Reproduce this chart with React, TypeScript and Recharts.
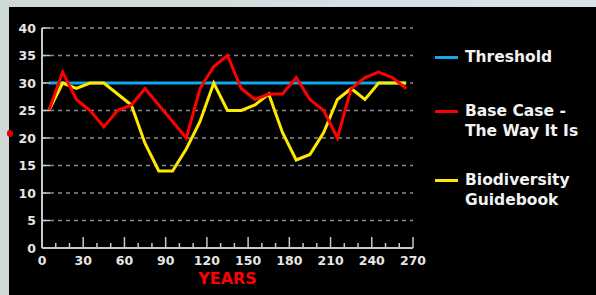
import React from "react";
import { LineChart, Line, XAxis, YAxis, CartesianGrid } from "recharts";

const years = [5, 15, 25, 35, 45, 55, 65, 75, 85, 95, 105, 115, 125, 135, 145, 155, 165, 175, 185, 195, 205, 215, 225, 235, 245, 255, 265];
const threshold = [30, 30, 30, 30, 30, 30, 30, 30, 30, 30, 30, 30, 30, 30, 30, 30, 30, 30, 30, 30, 30, 30, 30, 30, 30, 30, 30];
const baseCase = [25, 32, 27, 25, 22, 25, 26, 29, 26, 23, 20, 29, 33, 35, 29, 27, 28, 28, 31, 27, 25, 20, 29, 31, 32, 31, 29];
const biodiversity = [25, 30, 29, 30, 30, 28, 26, 19, 14, 14, 18, 23, 30, 25, 25, 26, 28, 21, 16, 17, 21, 27, 29, 27, 30, 30, 30];

const xTicks = [0, 10, 20, 30, 40, 50, 60, 70, 80, 90, 100, 110, 120, 130, 140, 150, 160, 170, 180, 190, 200, 210, 220, 230, 240, 250, 260, 270];
const yTicks = [0, 5, 10, 15, 20, 25, 30, 35, 40];

const legendItems = [
  { color: "#12a8ec", lines: ["Threshold"], top: 0 },
  { color: "#ff0000", lines: ["Base Case -", "The Way It Is"], top: 54 },
  { color: "#ffe800", lines: ["Biodiversity", "Guidebook"], top: 123 },
];

const data = years.map((year, i) => ({
  year,
  threshold: threshold[i],
  baseCase: baseCase[i],
  biodiversity: biodiversity[i],
}));

const font = "'DejaVu Sans', Verdana, sans-serif";
const axisColor = "#c8c8c8";
const labelColor = "#e6e6e6";

function XTick({ x, y, payload }: any) {
  const v = payload.value;
  const major = v % 30 === 0;
  return (
    <g>
      {v > 0 && (
        <line x1={x} x2={x} y1={y} y2={y - (major ? 11 : 5)} stroke={axisColor} strokeWidth={1.5} />
      )}
      {major && (
        <text x={x} y={y + 17} textAnchor="middle" fill={labelColor} fontSize={12.5} fontWeight="bold" fontFamily={font}>
          {v}
        </text>
      )}
    </g>
  );
}

function YTick({ x, y, payload }: any) {
  return (
    <g>
      {payload.value > 0 && <line x1={x} x2={x + 8} y1={y} y2={y} stroke={axisColor} strokeWidth={1.5} />}
      <text x={x - 6} y={y + 4.5} textAnchor="end" fill={labelColor} fontSize={12.5} fontWeight="bold" fontFamily={font}>
        {payload.value}
      </text>
    </g>
  );
}

function LegendBox() {
  return (
    <div style={{ position: "absolute", left: 435, top: 47, width: 160, height: 190, fontFamily: font }}>
      {legendItems.map((item) => (
        <div key={item.lines[0]} style={{ position: "absolute", left: 0, top: item.top }}>
          <div style={{ position: "absolute", left: 0, top: 9, width: 23, height: 3, background: item.color }} />
          <div style={{ marginLeft: 30, color: "#f2f2f2", fontSize: 15.5, fontWeight: "bold", lineHeight: "20px" }}>
            {item.lines.map((l) => (
              <div key={l} style={{ whiteSpace: "nowrap" }}>{l}</div>
            ))}
          </div>
        </div>
      ))}
    </div>
  );
}

export default function App() {
  return (
    <div style={{ position: "absolute", left: 0, top: 0, width: 596, height: 295, background: "linear-gradient(90deg, #cfd9d8, #dbe3e8)", overflow: "hidden" }}>
      <div style={{ position: "absolute", left: 9, top: 7, right: 0, bottom: 0, background: "#000" }} />
      <div style={{ position: "absolute", left: 7, top: 130, width: 6, height: 7, borderRadius: 3, background: "#e00000" }} />
      <div style={{ position: "absolute", left: 0, top: 0 }}>
        <LineChart width={596} height={295} data={data} margin={{ top: 28, right: 183, bottom: 0, left: 0 }}>
          <CartesianGrid horizontal vertical={false} stroke="#8a8a8a" strokeWidth={1.5} strokeDasharray="4 4" />
          <XAxis
            dataKey="year"
            type="number"
            domain={[0, 270]}
            ticks={xTicks}
            interval={0}
            height={47}
            tickSize={0}
            tickMargin={0}
            tick={<XTick />}
            axisLine={{ stroke: axisColor, strokeWidth: 2 }}
            tickLine={false}
            label={{ value: "YEARS", position: "insideBottom", offset: 11, fill: "#ff0000", fontSize: 16, fontWeight: "bold", fontFamily: font }}
          />
          <YAxis
            type="number"
            domain={[0, 40]}
            ticks={yTicks}
            interval={0}
            width={42}
            tickSize={0}
            tickMargin={0}
            tick={<YTick />}
            axisLine={{ stroke: axisColor, strokeWidth: 2 }}
            tickLine={false}
          />
          <Line type="linear" dataKey="threshold" stroke="#12a8ec" strokeWidth={3} dot={false} isAnimationActive={false} />
          <Line type="linear" dataKey="biodiversity" stroke="#ffe800" strokeWidth={3} dot={false} isAnimationActive={false} />
          <Line type="linear" dataKey="baseCase" stroke="#ff0000" strokeWidth={3} dot={false} isAnimationActive={false} />
        </LineChart>
      </div>
      <LegendBox />
    </div>
  );
}
